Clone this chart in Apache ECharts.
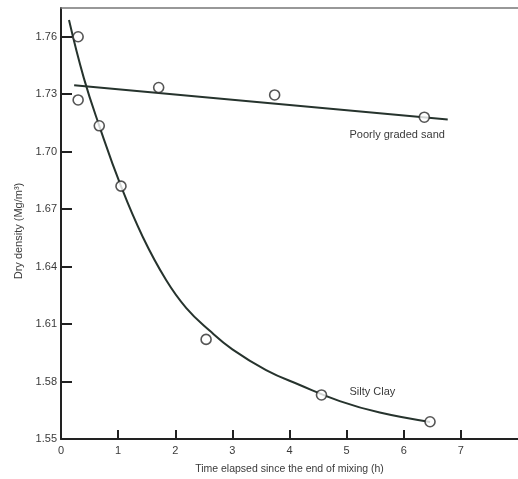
<!DOCTYPE html>
<html>
<head>
<meta charset="utf-8">
<script src="https://cdn.jsdelivr.net/npm/echarts@6/dist/echarts.min.js"></script>
<style>
  html, body { margin: 0; padding: 0; background: #fff; }
  #chart { width: 518px; height: 479px; }
</style>
</head>
<body>
<div id="chart"></div>
<script>
// ---- data ----
const clayPointsX = [0.30, 0.67, 1.05, 2.54, 4.56, 6.46];
const clayPointsY = [1.760, 1.7135, 1.682, 1.602, 1.573, 1.559];
const sandPointsX = [0.30, 1.71, 3.74, 6.36];
const sandPointsY = [1.727, 1.7335, 1.7296, 1.718];
// fitted curves as drawn
const clayCurveX = [0.14, 0.40, 0.67, 1.05, 1.43, 1.84, 2.19, 2.60, 3.00, 3.59, 4.18, 4.88, 5.58, 6.46];
const clayCurveY = [1.7687, 1.7384, 1.7135, 1.682, 1.6556, 1.633, 1.6185, 1.6066, 1.5968, 1.586, 1.5782, 1.5698, 1.5638, 1.5589];
const sandLineX = [0.23, 6.77];
const sandLineY = [1.7347, 1.7168];
const xTickLabels = [0, 1, 2, 3, 4, 5, 6, 7];
const yTickLabels = [1.55, 1.58, 1.61, 1.64, 1.67, 1.70, 1.73, 1.76];
const sandName = 'Poorly graded sand';
const clayName = 'Silty Clay';

const pair = (xs, ys) => xs.map((x, i) => [x, ys[i]]);

const FONT = 'Liberation Sans, Arial, sans-serif';
const TXT = '#3a3a3a';
const LINE = '#26332d';

const chart = echarts.init(document.getElementById('chart'), null, { renderer: 'canvas' });
chart.setOption({
  animation: false,
  backgroundColor: '#ffffff',
  textStyle: { fontFamily: FONT },
  grid: { left: 61, right: 0, top: 8, bottom: 40, containLabel: false, outerBoundsMode: 'none' },
  xAxis: [{
    type: 'value', min: 0, max: 8,
    name: 'Time elapsed since the end of mixing (h)',
    nameLocation: 'middle', nameGap: 25,
    nameTextStyle: { fontFamily: FONT, fontSize: 10.5, color: TXT },
    axisLine: { show: true, lineStyle: { color: '#222', width: 2 } },
    axisTick: { show: true, inside: true, length: 9, lineStyle: { color: '#222', width: 2 }, customValues: xTickLabels.slice(1) },
    axisLabel: { fontFamily: FONT, fontSize: 11, color: TXT, margin: 6, customValues: xTickLabels, formatter: v => String(v) },
    splitLine: { show: false }
  }, {
    type: 'value', min: 0, max: 8, position: 'top',
    axisLine: { show: true, onZero: false, lineStyle: { color: '#777', width: 1.5 } },
    axisTick: { show: false }, axisLabel: { show: false }, splitLine: { show: false }
  }],
  yAxis: {
    type: 'value', min: 1.55, max: 1.775,
    name: 'Dry density (Mg/m³)',
    nameLocation: 'middle', nameGap: 34, nameRotate: 90,
    nameTextStyle: { fontFamily: FONT, fontSize: 11, color: TXT, padding: [0, 15, 0, 0] },
    axisLine: { show: true, lineStyle: { color: '#222', width: 2 } },
    axisTick: { show: true, inside: true, length: 11, lineStyle: { color: '#222', width: 2 }, customValues: yTickLabels },
    axisLabel: { fontFamily: FONT, fontSize: 11, color: TXT, margin: 4, customValues: yTickLabels, formatter: v => v.toFixed(2) },
    splitLine: { show: false }
  },
  series: [
    {
      name: clayName + ' curve', type: 'line', data: pair(clayCurveX, clayCurveY),
      smooth: 0.45, showSymbol: false, symbol: 'none',
      lineStyle: { color: LINE, width: 2 }, z: 2,
      markPoint: {
        symbol: 'circle', symbolSize: 0,
        data: [{ coord: [5.05, 1.5745], value: clayName }],
        label: { show: true, position: 'right', distance: 0, formatter: clayName, fontFamily: FONT, fontSize: 11, color: TXT }
      }
    },
    {
      name: sandName + ' line', type: 'line', data: pair(sandLineX, sandLineY),
      showSymbol: false, symbol: 'none',
      lineStyle: { color: LINE, width: 2 }, z: 2,
      markPoint: {
        symbol: 'circle', symbolSize: 0,
        data: [{ coord: [5.05, 1.7087], value: sandName }],
        label: { show: true, position: 'right', distance: 0, formatter: sandName, fontFamily: FONT, fontSize: 11, color: TXT }
      }
    },
    {
      name: clayName, type: 'scatter', data: pair(clayPointsX, clayPointsY),
      symbol: 'circle', symbolSize: 10,
      itemStyle: { color: '#fff', borderColor: '#2a2a2a', borderWidth: 1.6 }, z: 3
    },
    {
      name: sandName, type: 'scatter', data: pair(sandPointsX, sandPointsY),
      symbol: 'circle', symbolSize: 10,
      itemStyle: { color: '#fff', borderColor: '#2a2a2a', borderWidth: 1.6 }, z: 3
    }
  ]
});
</script>
</body>
</html>
